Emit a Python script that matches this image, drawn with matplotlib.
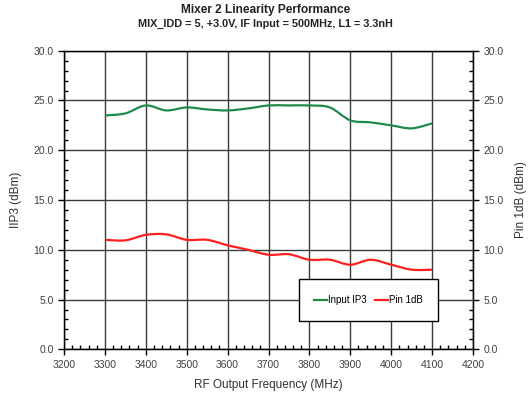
import matplotlib
matplotlib.use("Agg")
import matplotlib.pyplot as plt
from matplotlib.path import Path
from matplotlib.patches import PathPatch
from matplotlib.lines import Line2D
from matplotlib.ticker import MultipleLocator, FormatStrFormatter
import numpy as np

plt.rcParams['font.family'] = ['Liberation Sans', 'DejaVu Sans']

freq = [3300, 3350, 3400, 3450, 3500, 3550, 3600, 3650, 3700, 3750, 3800, 3850, 3900, 3950, 4000, 4050, 4100]
input_ip3 = [23.5, 23.7, 24.5, 24.0, 24.3, 24.1, 24.0, 24.2, 24.5, 24.5, 24.5, 24.3, 23.0, 22.8, 22.5, 22.2, 22.7]
pin_1db = [11.0, 10.95, 11.5, 11.55, 11.0, 11.0, 10.45, 10.0, 9.5, 9.55, 9.0, 9.0, 8.5, 9.0, 8.5, 8.0, 8.0]

green = '#1f8a4c'
red = '#ff1f1f'

def smooth_path(x, y):
    pts = np.column_stack([x, y]).astype(float)
    n = len(pts)
    verts = [pts[0]]
    codes = [Path.MOVETO]
    for i in range(n - 1):
        p0 = pts[i - 1] if i > 0 else pts[i]
        p1 = pts[i]
        p2 = pts[i + 1]
        p3 = pts[i + 2] if i + 2 < n else pts[i + 1]
        c1 = p1 + (p2 - p0) / 6.0
        c2 = p2 - (p3 - p1) / 6.0
        verts += [c1, c2, p2]
        codes += [Path.CURVE4] * 3
    return Path(verts, codes)

fig = plt.figure(figsize=(5.31, 3.94), dpi=100)
ax = fig.add_axes([0.1205, 0.1134, 0.7703, 0.7579])

ax.set_xlim(3200, 4200)
ax.set_ylim(0, 30)
ax.xaxis.set_major_locator(MultipleLocator(100))
ax.xaxis.set_minor_locator(MultipleLocator(20))
ax.yaxis.set_major_locator(MultipleLocator(5))
ax.yaxis.set_minor_locator(MultipleLocator(1))
ax.yaxis.set_major_formatter(FormatStrFormatter('%.1f'))

ax.grid(True, which='major', color='#3a3a3a', linewidth=1.0)
ax.set_axisbelow(True)

for sp in ax.spines.values():
    sp.set_linewidth(1.0)
    sp.set_color('black')

ax.tick_params(which='major', direction='out', length=4, width=1, labelsize=7.5, labelcolor='#404040',
               top=False, right=False)
ax.tick_params(which='minor', direction='in', length=3, width=1, top=False, right=False)

ax.add_patch(PathPatch(smooth_path(freq, input_ip3), fill=False, edgecolor=green, linewidth=1.6, zorder=3))
ax.add_patch(PathPatch(smooth_path(freq, pin_1db), fill=False, edgecolor=red, linewidth=1.6, zorder=3))

ax2 = ax.twinx()
ax2.set_ylim(0, 30)
ax2.yaxis.set_major_locator(MultipleLocator(5))
ax2.yaxis.set_minor_locator(MultipleLocator(1))
ax2.yaxis.set_major_formatter(FormatStrFormatter('%.1f'))
ax2.tick_params(which='major', direction='out', length=4, width=1, labelsize=7.5, labelcolor='#404040')
ax2.tick_params(which='minor', direction='in', length=3, width=1)
ax2.tick_params(axis='x', which='both', top=False, bottom=False, labeltop=False, labelbottom=False)

ax.set_xlabel('RF Output Frequency (MHz)', fontsize=8.5, color='#303030', labelpad=7)
ax.set_ylabel('IIP3 (dBm)', fontsize=8.5, color='#303030', labelpad=8)
ax2.set_ylabel('Pin 1dB (dBm)', fontsize=8.5, color='#303030', labelpad=8)

handles = [Line2D([], [], color=green, linewidth=1.6), Line2D([], [], color=red, linewidth=1.6)]
leg = ax2.legend(handles, ['Input IP3', 'Pin 1dB'], ncol=2, fontsize=7,
                 loc='center', frameon=True,
                 fancybox=False, edgecolor='black', framealpha=1, borderpad=1.6,
                 handlelength=1.3, handletextpad=0.1, columnspacing=0.9,
                 bbox_to_anchor=((301 + 436) / 2 / 531, 1 - 300 / 394),
                 bbox_transform=fig.transFigure)
leg.get_frame().set_linewidth(1.0)

fig.text(0.5, 1 - 10.5 / 394, 'Mixer 2 Linearity Performance', ha='center', va='center',
         fontsize=8.6, fontweight='bold', color='#222222')
fig.text(0.5, 1 - 23.5 / 394, 'MIX_IDD = 5, +3.0V, IF Input = 500MHz, L1 = 3.3nH', ha='center', va='center',
         fontsize=7.8, fontweight='bold', color='#222222')

fig.savefig('out.png', dpi=100)
